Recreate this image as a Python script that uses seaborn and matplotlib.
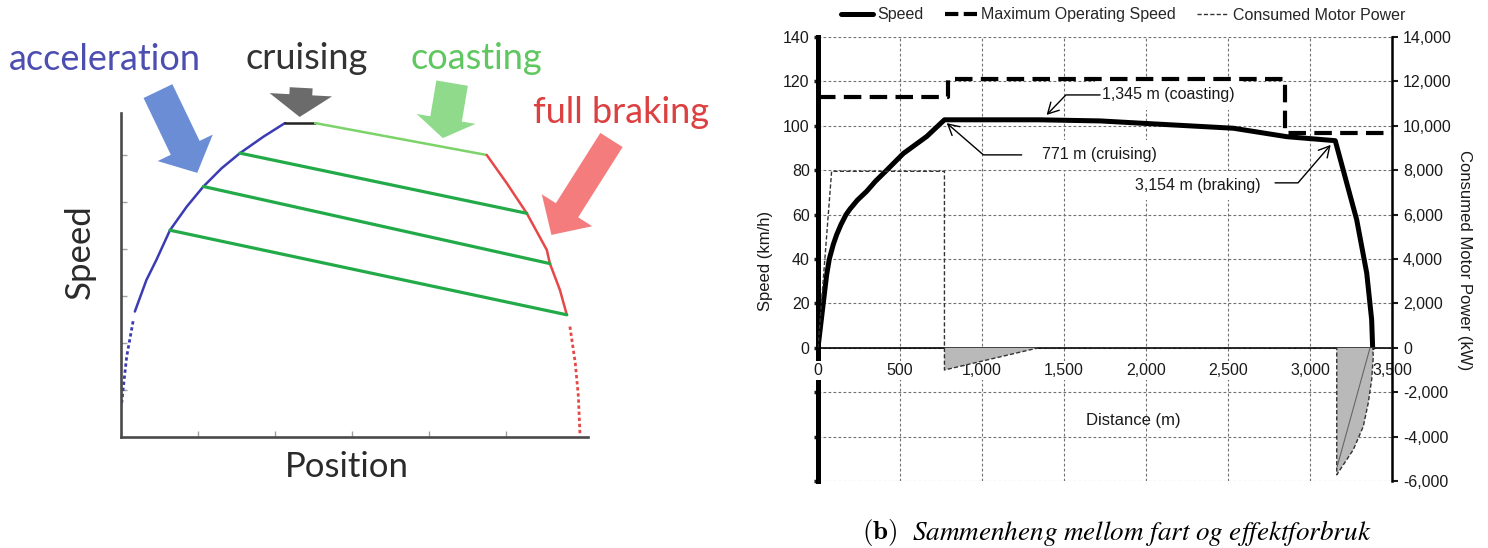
import matplotlib
matplotlib.use("Agg")
import matplotlib.pyplot as plt
from matplotlib.lines import Line2D
from matplotlib.ticker import FuncFormatter
import seaborn as sns

# ---------------- schematic: speed vs position ----------------
accel_pos = [0.18, 0.33, 0.46, 0.636, 0.853, 1.07, 1.308, 1.545, 1.85, 2.13]
accel_spd = [2.67, 3.34, 3.77, 4.40, 4.90, 5.33, 5.72, 6.04, 6.39, 6.68]
accel_start_pos = [0.009, 0.04, 0.074, 0.16]
accel_start_spd = [0.72, 1.21, 1.71, 2.49]
cruise_pos = [2.13, 2.52]
cruise_spd = [6.68, 6.68]
coast_pos = [2.52, 4.75]
coast_spd = [6.68, 6.00]
brake_pos = [4.75, 5.01, 5.27, 5.53, 5.57, 5.70, 5.79]
brake_spd = [6.00, 5.40, 4.76, 3.98, 3.69, 3.13, 2.60]
brake_end_pos = [5.83, 5.90, 5.94, 5.96]
brake_end_spd = [2.35, 1.57, 0.86, 0.08]
early_coast_pos = [[1.545, 5.27], [1.07, 5.57], [0.636, 5.79]]
early_coast_spd = [[6.04, 4.76], [5.33, 3.69], [4.40, 2.60]]

# ---------------- measured run: speed and motor power ----------------
speed_dist = [0, 32, 53, 69, 93, 114, 140, 171, 195, 240, 297, 350, 419, 520, 663, 771,
              1345, 1720, 1963, 2533, 2858, 3154, 3285, 3346, 3376, 3382]
speed_kmh = [0, 20, 33, 40, 46.5, 51, 55.5, 60, 62.5, 66.5, 70.5, 75, 80, 87.5, 95.2, 102.7,
             102.7, 102.2, 101.2, 98.9, 95.1, 93.3, 57.6, 33.6, 12.6, 0]
max_dist = [0, 790, 790, 2848, 2848, 3500]
max_kmh = [112.9, 112.9, 121, 121, 96.9, 96.9]
power_dist = [0, 83, 771, 771, 1345, 3163, 3163, 3264, 3325, 3355, 3376, 3386, 3382, 3500]
power_kw = [0, 7950, 7950, -1000, 0, 0, -5720, -4590, -3540, -2490, -1440, -390, 0, 0]
regen_dist = [3166, 3366]
regen_kw = [-5345, 0]

speed_ticks = list(range(-60, 141, 20))
power_ticks = list(range(-6000, 14001, 2000))
dist_ticks = list(range(0, 3501, 500))

sns.set_theme(style="white")
plt.rcParams["font.family"] = ["Liberation Sans", "DejaVu Sans"]
plt.rcParams["mathtext.fontset"] = "cm"

fig = plt.figure(figsize=(14.88, 5.48), dpi=100)
W, H = 1488.0, 548.0


def draw(ax, xs, ys, **kw):
    sns.lineplot(x=xs, y=ys, ax=ax, estimator=None, sort=False, **kw)


# ===== left panel =====
axL = fig.add_axes([121 / W, 1 - 437 / H, 467 / W, 324 / H])
axL.set_xlim(0, 6.065)
axL.set_ylim(0, 6.894)
lato = ["Lato", "DejaVu Sans"]

draw(axL, accel_pos, accel_spd, color="#3b3bb3", lw=1.8)
draw(axL, accel_start_pos, accel_start_spd, color="#3b3bb3", lw=2.0, linestyle=(0, (1.2, 1.0)))
draw(axL, cruise_pos, cruise_spd, color="#222222", lw=1.8)
draw(axL, coast_pos, coast_spd, color="#7cd36a", lw=1.8)
draw(axL, brake_pos, brake_spd, color="#e64848", lw=1.8)
draw(axL, brake_end_pos, brake_end_spd, color="#e64848", lw=2.0, linestyle=(0, (1.2, 1.0)))
for xs, ys in zip(early_coast_pos, early_coast_spd):
    draw(axL, xs, ys, color="#22aa48", lw=2.3)

for side in ("top", "right"):
    axL.spines[side].set_visible(False)
for side in ("left", "bottom"):
    axL.spines[side].set_color("#4a4a4a")
    axL.spines[side].set_linewidth(1.9)
axL.set_xticks([1, 2, 3, 4, 5])
axL.set_yticks([1, 2, 3, 4, 5, 6])
axL.tick_params(direction="in", length=4, width=1, color="#a0a0a0",
                labelbottom=False, labelleft=False, bottom=True, left=True)
axL.set_xlabel("")
axL.set_ylabel("")
axL.text(2.935, -0.64, "Position", family=lato, fontsize=25, color="#2a2a2a",
         ha="center", va="center", clip_on=False)
axL.text(-0.53, 3.94, "Speed", family=lato, fontsize=25, color="#2a2a2a",
         rotation=90, ha="center", va="center", clip_on=False)

phases = [("acceleration", -0.208, 7.81, "#4d4fb0", 0.48, 7.36, 0.99, 5.62, "#6a8dd6", 23, 44, 20),
          ("cruising", 2.415, 7.83, "#333333", 2.34, 7.43, 2.32, 6.81, "#6b6b6b", 16.5, 45, 16),
          ("coasting", 4.617, 7.83, "#5fc75f", 4.30, 7.53, 4.18, 6.36, "#8fdb8b", 23, 43, 14),
          ("full braking", 6.49, 6.69, "#dc4040", 6.37, 6.32, 5.59, 4.30, "#f47c7c", 19, 43, 21)]
for label, tx, ty, tcol, ax0, ay0, ax1, ay1, acol, tw, hw, hl in phases:
    axL.text(tx, ty, label, family=lato, fontsize=26, color=tcol,
             ha="center", va="baseline", clip_on=False)
    axL.annotate("", xy=(ax1, ay1), xytext=(ax0, ay0), annotation_clip=False,
                 arrowprops=dict(arrowstyle=f"simple,head_length={hl},head_width={hw},tail_width={tw}",
                                 mutation_scale=1, fc=acol, ec="none", shrinkA=0, shrinkB=0))

# ===== right panel =====
ax = fig.add_axes([818 / W, 1 - 481 / H, 574 / W, 444 / H])
ax.set_xlim(0, 3500)
ax.set_ylim(-60, 140)
ax2 = ax.twinx()
ax2.set_ylim(-6000, 14000)

grid_kw = dict(color="#707070", lw=0.8, linestyle=(0, (2.5, 2)))
ax.set_xticks(dist_ticks)
ax.set_yticks(speed_ticks)
ax.grid(True, **grid_kw)
ax.set_axisbelow(True)

draw(ax, speed_dist, speed_kmh, color="black", lw=3.6, zorder=5)
draw(ax, max_dist, max_kmh, color="black", lw=3.0, linestyle=(0, (4.2, 2.0)), zorder=5)

# braking / coasting energy areas under the zero line
ax2.fill([power_dist[3], power_dist[4], power_dist[3]], [power_kw[3], power_kw[4], 0],
         color="#b9b9b9", lw=0, zorder=1)
ax2.fill(power_dist[5:13], power_kw[5:13], color="#b9b9b9", lw=0, zorder=1)
draw(ax2, regen_dist, regen_kw, color="#666666", lw=0.8, zorder=2)
draw(ax2, power_dist, power_kw, color="#333333", lw=1.0, linestyle=(0, (3, 1.6)), zorder=3)

# spines and ticks
ax.spines["top"].set_visible(False)
ax.spines["right"].set_visible(False)
ax.spines["left"].set_linewidth(3.6)
ax.spines["left"].set_color("black")
ax.spines["bottom"].set_position(("data", 0))
ax.spines["bottom"].set_linewidth(1.2)
ax.spines["bottom"].set_color("black")
ax.spines["bottom"].set_zorder(4)
for side in ("top", "bottom", "left"):
    ax2.spines[side].set_visible(False)
ax2.spines["right"].set_linewidth(1.8)
ax2.spines["right"].set_color("black")

ax.xaxis.set_major_formatter(FuncFormatter(lambda v, p: f"{v:,.0f}"))
ax.yaxis.set_major_formatter(FuncFormatter(lambda v, p: f"{v:.0f}" if v >= 0 else ""))
ax2.set_yticks(power_ticks)
ax2.yaxis.set_major_formatter(FuncFormatter(lambda v, p: f"{v:,.0f}"))
ax.tick_params(axis="x", length=0, pad=11, labelsize=11.5, colors="#1a1a1a")
ax.tick_params(axis="y", left=True, direction="out", length=3, width=2.5,
               pad=3, labelsize=11.5, colors="#1a1a1a")
ax2.tick_params(axis="y", right=True, direction="out", length=4, width=1.5,
                pad=4, labelsize=11.5, colors="#1a1a1a")
ax.xaxis.set_zorder(4.5)
ax.xaxis.grid(False)
for v in dist_ticks[1:-1]:
    ax.axvline(v, zorder=0.5, **grid_kw)
fig.canvas.draw()
for lab in ax.get_xticklabels():
    lab.set_bbox(dict(boxstyle="square,pad=0.1", fc="white", ec="none"))

ax.set_ylabel("Speed (km/h)", fontsize=12, va="center", color="#1a1a1a")
ax.yaxis.set_label_coords(-0.0923, 0.4955)
ax.set_xlabel("")
ax.text(0.549, 0.137, "Distance (m)", transform=ax.transAxes, fontsize=12,
        ha="center", va="center", color="#1a1a1a")
ax2.set_ylabel("Consumed Motor Power (kW)", fontsize=12, rotation=270,
               va="center", color="#1a1a1a")
ax2.yaxis.set_label_coords(1.127, 0.498)

# phase annotations
notes = [("1,345 m (coasting)", 1732, 113.9, (1720, 113.9), (1394, 104.9), 46),
         ("771 m (cruising)", 1364, 86.9, (1242, 86.9), (785, 101.2), -40.9),
         ("3,154 m (braking)", 1933, 73.1, (2787, 74.3), (3126, 91.4), 49.3)]
for text, tx, ty, start, tip, angB in notes:
    ax.text(tx, ty, text, fontsize=11.5, ha="left", va="center", color="#1a1a1a", zorder=3,
            bbox=dict(boxstyle="square,pad=0.45", fc="white", ec="none"))
    ax.annotate("", xy=tip, xytext=start, zorder=6,
                arrowprops=dict(arrowstyle="->,head_length=0.55,head_width=0.3",
                                mutation_scale=14, color="black", lw=1.0,
                                connectionstyle=f"angle,angleA=0,angleB={angB},rad=0",
                                shrinkA=0, shrinkB=0))

handles = [Line2D([], [], color="black", lw=3.6),
           Line2D([], [], color="black", lw=3.0, linestyle=(0, (3.2, 1.3))),
           Line2D([], [], color="#333333", lw=1.0, linestyle=(0, (3, 1.6)))]
fig.legend(handles, ["Speed", "Maximum Operating Speed", "Consumed Motor Power"],
           loc="center left", bbox_to_anchor=(841 / W, 1 - 15 / H), ncol=3, frameon=False,
           handlelength=2.0, handletextpad=0.25, columnspacing=1.35, borderpad=0,
           borderaxespad=0, fontsize=11.5)

# caption: bold sub-figure letter followed by the italic title
fig.text(862 / W, 1 - 533 / H, r"$\mathbf{(b)}$", math_fontfamily="cm",
         fontsize=19.5, ha="left", va="center", color="black")
fig.text(912 / W, 1 - 533 / H,
         r"$\mathit{Sammenheng\ mellom\ fart\ og\ effektforbruk}$", math_fontfamily="stix",
         fontsize=19.5, ha="left", va="center", color="black")

fig.savefig("out.png", dpi=100, facecolor="white")
